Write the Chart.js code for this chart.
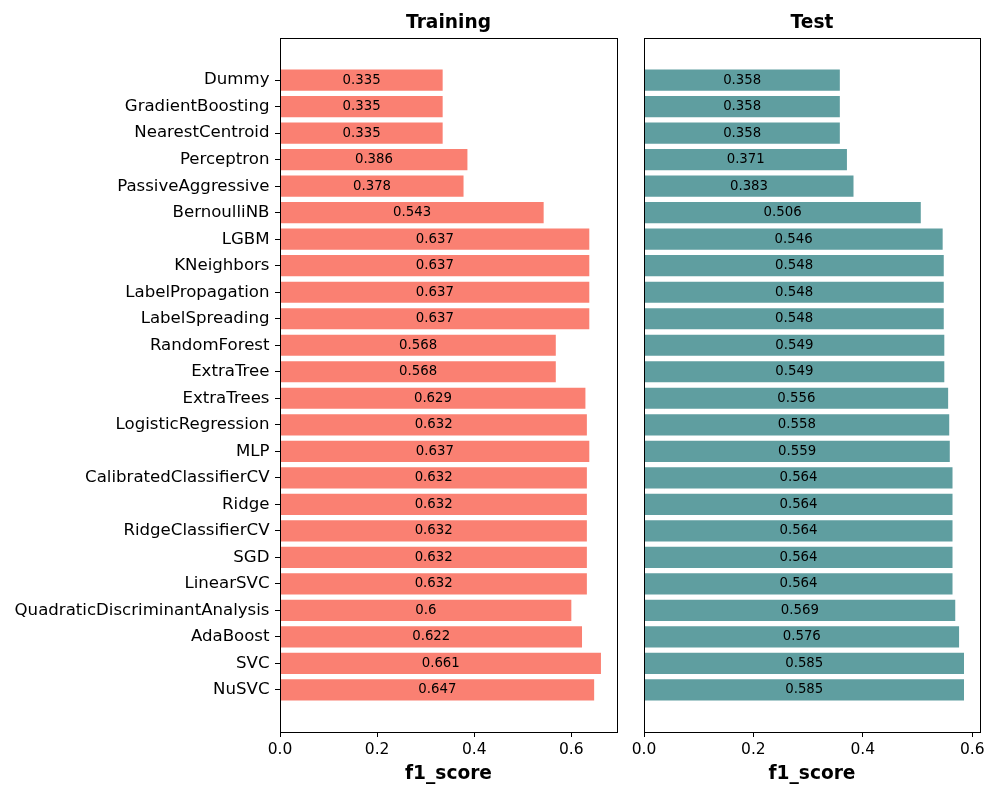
<!DOCTYPE html>
<html>
<head>
<meta charset="utf-8">
<script src="https://cdn.jsdelivr.net/npm/chart.js@4/dist/chart.umd.min.js"></script>
<style>
  html, body { margin: 0; padding: 0; background: #fff; }
  #wrap { position: relative; width: 1000px; height: 800px; }
  #c1 { position: absolute; left: 0; top: 0; }
  #c2 { position: absolute; left: 620px; top: 0; }
</style>
</head>
<body>
<div id="wrap">
  <canvas id="c1" width="640" height="800"></canvas>
  <canvas id="c2" width="380" height="800"></canvas>
</div>
<script>
const models = ["Dummy","GradientBoosting","NearestCentroid","Perceptron","PassiveAggressive","BernoulliNB","LGBM","KNeighbors","LabelPropagation","LabelSpreading","RandomForest","ExtraTree","ExtraTrees","LogisticRegression","MLP","CalibratedClassifierCV","Ridge","RidgeClassifierCV","SGD","LinearSVC","QuadraticDiscriminantAnalysis","AdaBoost","SVC","NuSVC"];
const trainScores = [0.335,0.335,0.335,0.386,0.378,0.543,0.637,0.637,0.637,0.637,0.568,0.568,0.629,0.632,0.637,0.632,0.632,0.632,0.632,0.632,0.6,0.622,0.661,0.647];
const testScores = [0.358,0.358,0.358,0.371,0.383,0.506,0.546,0.548,0.548,0.548,0.549,0.549,0.556,0.558,0.559,0.564,0.564,0.564,0.564,0.564,0.569,0.576,0.585,0.585];
const xTicks = [0, 0.2, 0.4, 0.6];
const panelTitles = ["Training", "Test"];
const xLabel = "f1_score";

const FONT = "'DejaVu Sans', sans-serif";

const framePlugin = {
  id: 'frame',
  afterDatasetsDraw(chart) {
    const {ctx} = chart;
    ctx.save();
    const meta = chart.getDatasetMeta(0);
    const vals = chart.data.datasets[0].data;
    ctx.font = "13.3px " + FONT;
    ctx.fillStyle = '#000';
    ctx.textAlign = 'center';
    ctx.textBaseline = 'middle';
    meta.data.forEach((bar, i) => {
      const p = bar.getProps(['x','y','base'], true);
      ctx.fillText(String(vals[i].x), (p.x + p.base) / 2, p.y);
    });
    ctx.restore();
  },
  afterDraw(chart) {
    const {ctx, chartArea: a} = chart;
    ctx.save();
    ctx.strokeStyle = '#000';
    ctx.lineWidth = 1;
    ctx.strokeRect(Math.round(a.left) + 0.5, Math.round(a.top) + 0.5, Math.round(a.right - a.left), Math.round(a.bottom - a.top));
    ctx.restore();
  }
};

function makeChart(id, values, color, title, xmax, showY, pad) {
  const n = values.length;
  const span = (n - 1) + 0.8;
  const margin = span * 0.05;
  return new Chart(document.getElementById(id), {
    type: 'bar',
    data: {
      datasets: [{
        data: values.map((v, i) => ({x: v, y: i})),
        backgroundColor: color,
        borderWidth: 0,
        barPercentage: 0.8,
        categoryPercentage: 1.0
      }]
    },
    options: {
      responsive: false,
      animation: false,
      indexAxis: 'y',
      layout: { padding: pad },
      plugins: {
        legend: { display: false },
        tooltip: { enabled: false },
        title: {
          display: true,
          fullSize: false,
          text: title,
          color: '#000',
          font: { family: FONT, size: 18.6, weight: 'bold' },
          padding: { top: 12, bottom: 3.7 }
        }
      },
      scales: {
        y: {
          type: 'linear',
          display: showY,
          reverse: true,
          offset: false,
          min: -0.4 - margin,
          max: (n - 1) + 0.4 + margin,
          afterBuildTicks: s => { s.ticks = s.ticks.filter(t => t.value >= 0 && t.value <= n - 1 && Number.isInteger(t.value)); },
          afterFit: s => { if (showY) s.width = 280 - pad.left; },
          ticks: {
            stepSize: 1,
            autoSkip: false,
            includeBounds: false,
            color: '#000',
            padding: 5.5,
            font: { family: FONT, size: 16.6 },
            callback: v => models[v] !== undefined ? models[v] : ''
          },
          grid: { display: true, offset: false, drawOnChartArea: false, drawTicks: true, tickLength: 5, tickColor: '#000', tickWidth: 1 },
          border: { display: true, color: '#000', width: 1 }
        },
        x: {
          type: 'linear',
          min: 0,
          max: xmax,
          afterBuildTicks: s => { s.ticks = xTicks.map(v => ({value: v})); },
          afterFit: s => { s.height = 68; },
          ticks: {
            color: '#000',
            padding: 4,
            maxRotation: 0,
            font: { family: FONT, size: 15.5 },
            callback: v => Number(v).toFixed(1)
          },
          grid: { display: true, drawOnChartArea: false, drawTicks: true, tickLength: 5, tickColor: '#000', tickWidth: 1 },
          border: { display: true, color: '#000', width: 1 },
          title: {
            display: true,
            text: xLabel,
            color: '#000',
            font: { family: FONT, size: 18.6, weight: 'bold' },
            padding: { top: 0, bottom: 15 }
          }
        }
      }
    },
    plugins: [framePlugin]
  });
}

makeChart('c1', trainScores, '#FA8072', panelTitles[0], 0.661 * 1.05, true, {left: 0, right: 23, top: 0, bottom: 0});
makeChart('c2', testScores, '#5F9EA0', panelTitles[1], 0.585 * 1.05, false, {left: 24, right: 20, top: 0, bottom: 0});
</script>
</body>
</html>
